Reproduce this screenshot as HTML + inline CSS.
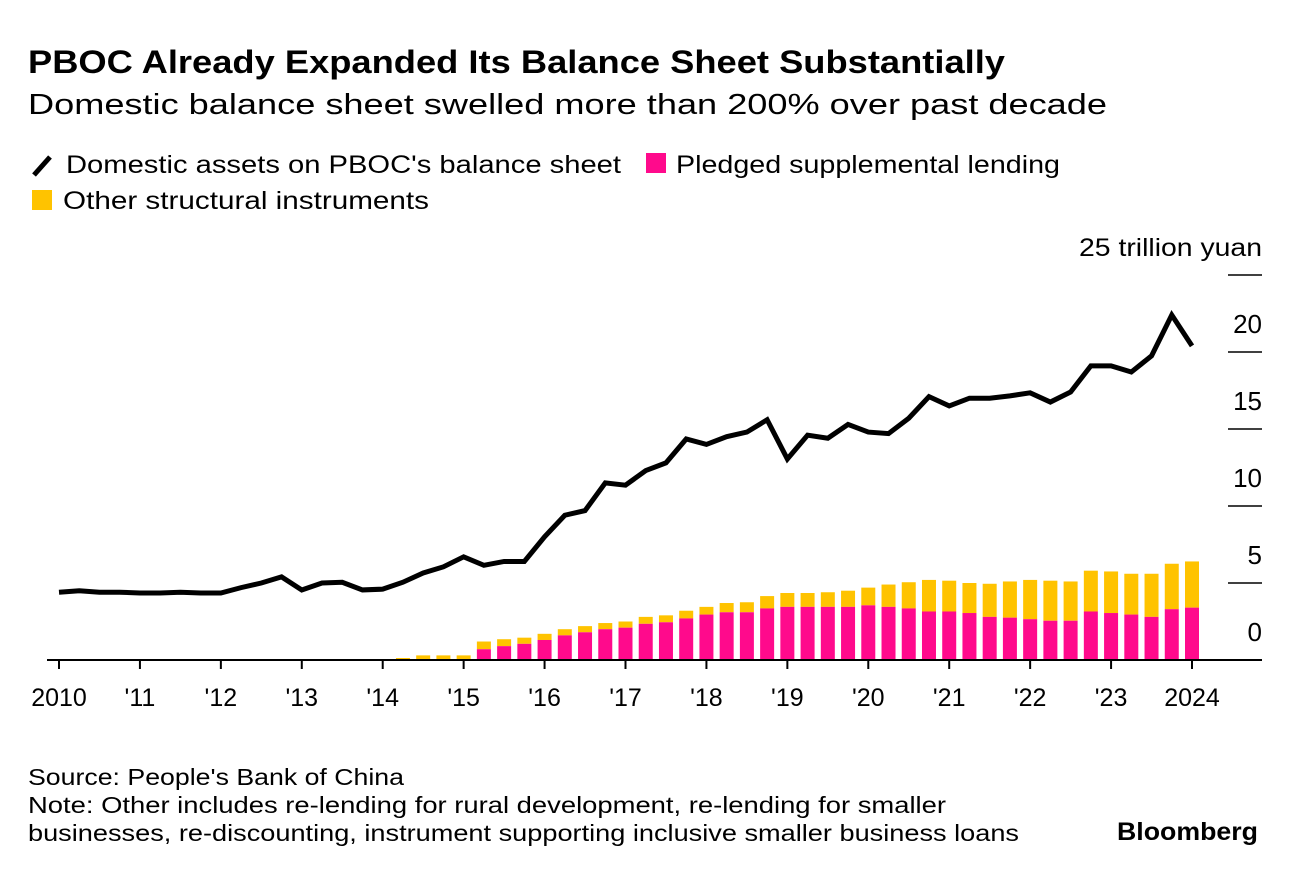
<!DOCTYPE html>
<html><head><meta charset="utf-8">
<style>
body{margin:0;background:#fff;width:1296px;height:876px;overflow:hidden;font-family:"Liberation Sans",Arial,sans-serif;color:#000}
svg{position:absolute;left:0;top:0}
</style></head>
<body>
<svg id="chart" width="1296" height="876">
<text x="28" y="73" font-size="32" font-weight="bold" textLength="977" lengthAdjust="spacingAndGlyphs">PBOC Already Expanded Its Balance Sheet Substantially</text>
<text x="28" y="114" font-size="29" textLength="1079" lengthAdjust="spacingAndGlyphs">Domestic balance sheet swelled more than 200% over past decade</text>
<g>
<line x1="34" y1="175" x2="50" y2="157" stroke="#000" stroke-width="5"/>
<text x="66" y="173" font-size="25" textLength="555" lengthAdjust="spacingAndGlyphs">Domestic assets on PBOC's balance sheet</text>
<rect x="646" y="153" width="20" height="20" fill="#ff0a8c"/>
<text x="676" y="173" font-size="25" textLength="384" lengthAdjust="spacingAndGlyphs">Pledged supplemental lending</text>
<rect x="32" y="190" width="20" height="20" fill="#ffc300"/>
<text x="63" y="209" font-size="25" textLength="366" lengthAdjust="spacingAndGlyphs">Other structural instruments</text>
</g>
<g id="plot"></g>
<text x="28" y="785" font-size="23" textLength="376" lengthAdjust="spacingAndGlyphs">Source: People's Bank of China</text>
<text x="28" y="813" font-size="23" textLength="918" lengthAdjust="spacingAndGlyphs">Note: Other includes re-lending for rural development, re-lending for smaller</text>
<text x="28" y="841" font-size="23" textLength="991" lengthAdjust="spacingAndGlyphs">businesses, re-discounting, instrument supporting inclusive smaller business loans</text>
<text x="1117" y="840" font-size="25" font-weight="bold" textLength="141" lengthAdjust="spacingAndGlyphs">Bloomberg</text>
</svg>
<script>
const lineValues=[4.4,4.5,4.4,4.4,4.35,4.35,4.4,4.35,4.35,4.7,5.0,5.4,4.55,5.0,5.05,4.55,4.6,5.05,5.65,6.05,6.7,6.15,6.4,6.4,8.0,9.4,9.7,11.5,11.35,12.3,12.8,14.35,14.0,14.5,14.8,15.6,13.05,14.6,14.4,15.3,14.8,14.7,15.7,17.1,16.5,17.0,17.0,17.15,17.35,16.75,17.4,19.1,19.1,18.7,19.75,22.4,20.4];
const lineStart=2010;
const barStart=2014.25;
const pledged=[0,0,0,0,0.7,0.9,1.05,1.3,1.6,1.8,2.0,2.1,2.35,2.45,2.7,2.95,3.1,3.1,3.35,3.45,3.45,3.45,3.45,3.55,3.45,3.35,3.15,3.15,3.05,2.8,2.75,2.65,2.55,2.55,3.15,3.05,2.95,2.8,3.3,3.4];
const totals=[0.13,0.3,0.3,0.3,1.2,1.35,1.45,1.7,2.0,2.2,2.4,2.5,2.8,2.9,3.2,3.45,3.7,3.75,4.15,4.35,4.35,4.4,4.5,4.7,4.9,5.05,5.2,5.15,5.0,4.95,5.1,5.2,5.15,5.1,5.8,5.75,5.6,5.6,6.25,6.4];
const yTicks=[0,5,10,15,20,25];
const yTickLabels=["0","5","10","15","20","25 trillion yuan"];
const xTicks=[2010,2011,2012,2013,2014,2015,2016,2017,2018,2019,2020,2021,2022,2023,2024];
const xTickLabels=["2010","'11","'12","'13","'14","'15","'16","'17","'18","'19","'20","'21","'22","'23","2024"];

const NS="http://www.w3.org/2000/svg";
const g=document.getElementById('plot');
const X=t=>59+(t-2010)*(1192-59)/14;
const Y=v=>660-v*15.4;
function mk(tag,attrs){const e=document.createElementNS(NS,tag);for(const k in attrs)e.setAttribute(k,attrs[k]);g.appendChild(e);return e;}

yTicks.forEach((v,i)=>{
  if(v>0){const l=mk('line',{x1:1228,x2:1262,y1:Y(v),y2:Y(v),stroke:'#000','stroke-width':1.5});
  
  }
  const attrs={x:1262,y:Y(v)-19,'font-size':26,'text-anchor':'end'};
  if(v===25){attrs.textLength=183;attrs.lengthAdjust='spacingAndGlyphs';attrs['font-size']=25;}
  const t=mk('text',attrs);
  t.textContent=yTickLabels[i];
  
  
});

for(let i=0;i<totals.length;i++){
  const t=barStart+i*0.25,cx=X(t),w=14;
  const o=mk('rect',{x:cx-w/2,y:Y(totals[i]),width:w,height:Y(pledged[i])-Y(totals[i]),fill:'#ffc300'});
  
  
  const p=mk('rect',{x:cx-w/2,y:Y(pledged[i]),width:w,height:Y(0)-Y(pledged[i]),fill:'#ff0a8c'});
  
  
}

const ax=mk('line',{x1:47,x2:1262,y1:660,y2:660,stroke:'#000','stroke-width':2});


xTicks.forEach((yr,i)=>{
  const tk=mk('line',{x1:X(yr),x2:X(yr),y1:660,y2:669,stroke:'#000','stroke-width':2});
  
  
  const t=mk('text',{x:X(yr),y:706,'font-size':25,'text-anchor':'middle'});
  t.textContent=xTickLabels[i];
  
  
});

const pts=lineValues.map((v,i)=>X(lineStart+i*0.25)+','+Y(v)).join(' ');
const pl=mk('polyline',{points:pts,fill:'none',stroke:'#000','stroke-width':5,'stroke-linejoin':'miter','stroke-linecap':'butt'});


</script>
</body></html>
